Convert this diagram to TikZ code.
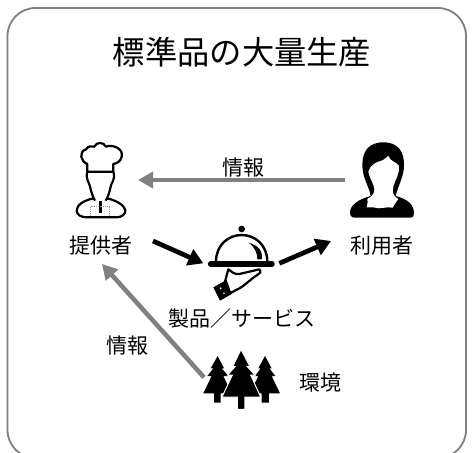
\documentclass[tikz,border=0pt]{standalone}
\usepackage{fontspec}
\usetikzlibrary{arrows.meta}
\newfontfamily\jpfont{Noto Sans CJK JP}
\tikzset{
  lbl/.style={font=\jpfont\fontsize{21}{24}\selectfont,text=black,inner sep=0pt},
  ttl/.style={font=\jpfont\fontsize{32.3}{36}\selectfont,text=black,inner sep=0pt},
  grayarrow/.style={draw=black!50,line width=4.5pt,-{Triangle[length=15pt,width=16pt]}},
  blackarrow/.style={draw=black,line width=4.7pt,-{Triangle[length=15pt,width=17pt]}},
  zoomA/.style={shift={(50,130)},x=0.3333pt,y=-0.3333pt},
  zoomB/.style={shift={(330,130)},x=0.3333pt,y=-0.3333pt},
  zoomC/.style={shift={(150,200)},x=0.3333pt,y=-0.3333pt},
  zoomD/.style={shift={(190,350)},x=0.3333pt,y=-0.3333pt}
}
\begin{document}
\begin{tikzpicture}[x=1pt,y=-1pt]
\useasboundingbox (0,0) rectangle (473,452);
\fill[white] (0,0) rectangle (473,452);
\begin{scope}
\clip (0,0) rectangle (473,452);
\draw[black!50,line width=1.8pt,rounded corners=28pt] (7.5,8) rectangle (466,458);
\end{scope}
\node[ttl] (title) at (242,52) {標準品の大量生産};
% chef
\begin{scope}[zoomA,line width=2.2pt,line join=round]
\draw (112,125) -- (112,102) .. controls (92,95) and (85,65) .. (108,58) .. controls (115,45) and (130,50) .. (133,50)
  .. controls (140,35) and (160,35) .. (168,50) .. controls (185,42) and (222,55) .. (215,80) .. controls (212,95) and (200,100) .. (190,102) -- (190,125) -- cycle;
\draw (112,125) .. controls (105,150) and (120,160) .. (120,170) .. controls (125,190) and (130,205) .. (135,212);
\draw (190,125) .. controls (198,150) and (182,160) .. (182,170) .. controls (178,190) and (172,205) .. (167,212);
\draw (130,205) .. controls (100,212) and (80,225) .. (80,242) .. controls (80,255) and (95,262) .. (110,262) -- (200,262) .. controls (215,262) and (228,252) .. (226,240) .. controls (222,225) and (200,212) .. (172,205);
\draw[line width=3.2pt] (152,212) -- (152,250);
\draw[black!40,line width=0.8pt,densely dotted] (122,232) -- (122,256) (178,232) -- (178,256) (122,228) -- (178,228);
\end{scope}
% woman
\begin{scope}[zoomB]
\fill (160,37) .. controls (205,37) and (222,65) .. (222,105) .. controls (222,140) and (205,165) .. (197,198)
 .. controls (235,208) and (252,225) .. (252,250) .. controls (252,258) and (250,263) .. (240,263) -- (75,263) .. controls (62,263) and (60,255) .. (60,245)
 .. controls (62,225) and (85,208) .. (122,198) .. controls (118,170) and (97,145) .. (97,105) .. controls (97,65) and (115,37) .. (160,37) -- cycle;
\fill[white] (115,125) .. controls (120,105) and (140,95) .. (155,92) .. controls (165,88) and (172,78) .. (175,78) .. controls (180,95) and (200,95) .. (207,108)
 .. controls (210,130) and (195,150) .. (190,170) .. controls (188,185) and (185,195) .. (205,207) .. controls (195,220) and (192,228) .. (188,233)
 .. controls (170,228) and (150,240) .. (130,232) -- (110,232) .. controls (112,220) and (115,212) .. (112,207) .. controls (130,198) and (138,185) .. (130,165) .. controls (125,150) and (117,140) .. (115,125) -- cycle;
\end{scope}
% cloche
\begin{scope}[zoomC]
\fill (275,87) circle (10);
\draw[line width=2.4pt] (198,185) .. controls (198,135) and (235,105) .. (275,105) .. controls (315,105) and (352,135) .. (352,185);
\fill (295,128) .. controls (325,135) and (340,155) .. (335,178) -- (322,178) .. controls (322,160) and (315,140) .. (295,128) -- cycle;
\draw[line width=5.5pt,line cap=round] (182,192) -- (366,192);
\draw[line width=2.2pt,line join=round] (225,245) -- (235,208) .. controls (245,215) and (255,225) .. (268,222) -- (328,208) .. controls (335,215) and (330,222) .. (322,225) .. controls (300,238) and (280,262) .. (258,270) -- (240,280);
\fill (190,262) -- (230,240) -- (245,282) -- (210,302) -- cycle;
\fill[white] (212,265) circle (3) (222,280) circle (2.5);
\coordinate (mealin) at (160,190);
\coordinate (mealout) at (388,190);
\end{scope}
% trees
\begin{scope}[zoomD]
\fill (83,18) -- (102,55) -- (95,55) -- (115,78) -- (100,78) -- (125,130) -- (92,130) -- (92,158) -- (72,158) -- (72,130) -- (40,130) -- (65,78) -- (52,78) -- (70,55) -- (62,55) -- cycle;
\fill (225,18) -- (245,55) -- (238,55) -- (256,78) -- (245,78) -- (270,130) -- (237,130) -- (237,158) -- (215,158) -- (215,130) -- (180,130) -- (205,78) -- (195,78) -- (212,55) -- (205,55) -- cycle;
\filldraw[draw=white,line width=1pt,line join=miter] (153,-2) -- (180,50) -- (172,50) -- (195,75) -- (182,75) -- (212,141) -- (165,141) -- (165,178) -- (142,178) -- (142,141) -- (96,141) -- (127,75) -- (113,75) -- (135,50) -- (128,50) -- cycle;
\coordinate (forest) at (42,82);
\end{scope}
% labels
\node[lbl] (prov) at (100.5,246) {提供者};
\node[lbl] (recv) at (382,246) {利用者};
\node[lbl] (prod) at (241.5,319) {製品／サービス};
\node[lbl] (info1) at (243,168) {情報};
\node[lbl] (info2) at (127,346) {情報};
\node[lbl] (envr) at (320,383) {環境};
% connectors
\coordinate (a1s) at (345,180);
\coordinate (a1e) at (138,180);
\coordinate (a2s) at (153,241);
\coordinate (a3e) at (331,241);
\coordinate (a4e) at (102,264);
\draw[grayarrow] (a1s) -- (a1e);
\draw[blackarrow] (a2s) -- (mealin);
\draw[blackarrow] (mealout) -- (a3e);
\draw[grayarrow] (forest) -- (a4e);
\end{tikzpicture}
\end{document}
